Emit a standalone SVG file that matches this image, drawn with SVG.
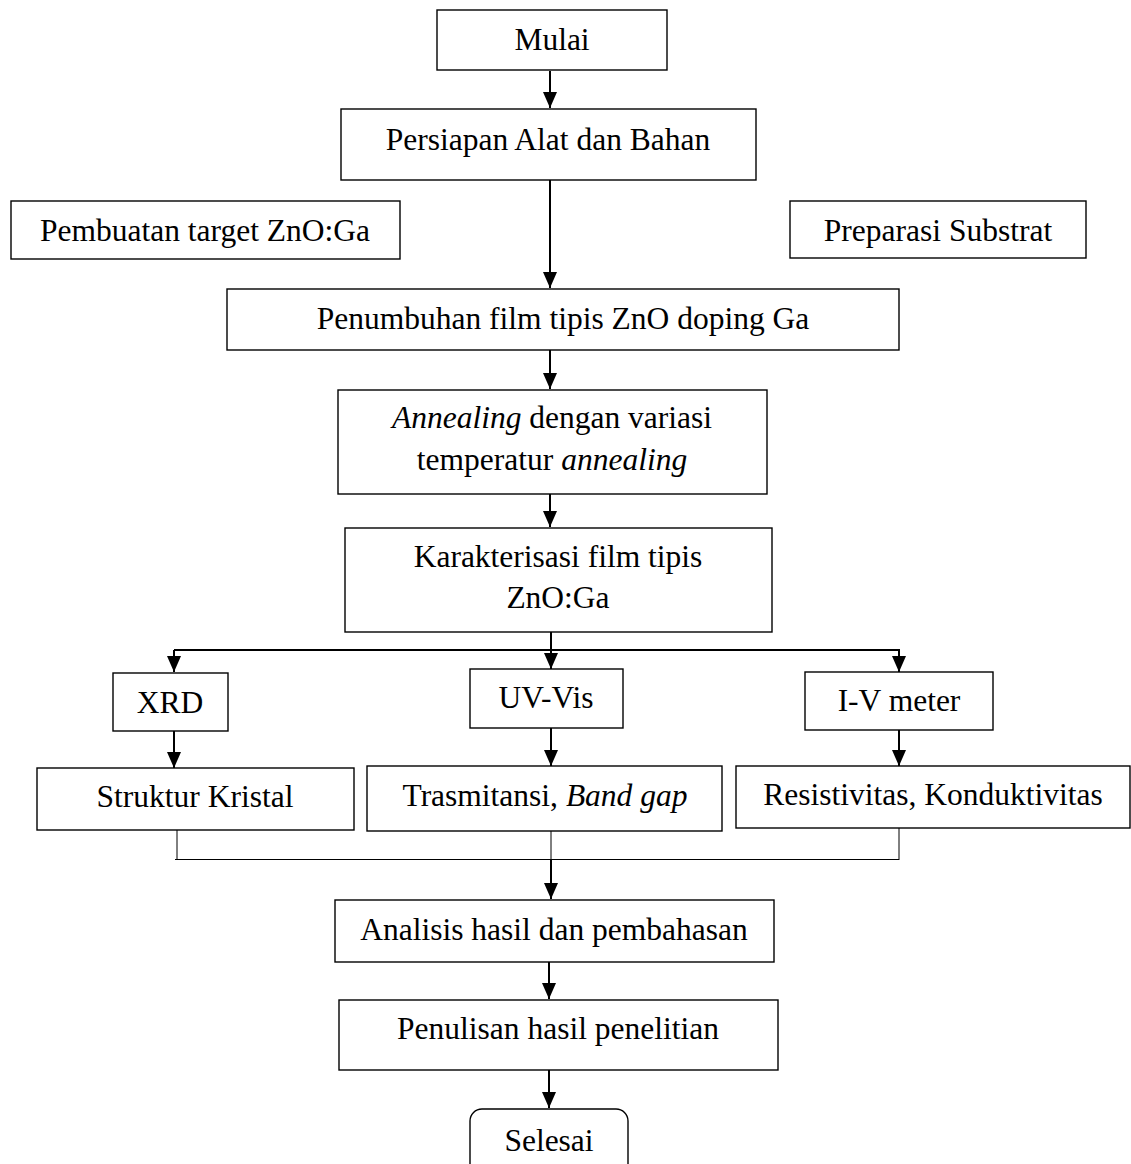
<svg xmlns="http://www.w3.org/2000/svg" width="1131" height="1164" viewBox="0 0 1131 1164">
<style>
.box{fill:#fff;stroke:#000;stroke-width:1.4}
.t{font-family:"Liberation Serif","Times New Roman",serif;font-size:31.5px;fill:#000;text-anchor:middle}
.i{font-style:italic}
.c{fill:none;stroke:#000;stroke-width:2}
.thin{fill:none;stroke:#000;stroke-width:1}
</style>
<defs>
<marker id="ah" markerUnits="userSpaceOnUse" markerWidth="14" markerHeight="16" refX="7" refY="15" orient="auto-start-reverse" viewBox="0 0 14 16">
<path d="M0,0 L14,0 L7,16 Z" fill="#000" transform="rotate(-90 7 8) translate(0 0)"/>
</marker>
<marker id="a" markerUnits="userSpaceOnUse" markerWidth="16" markerHeight="14" refX="16" refY="7" orient="auto" viewBox="0 0 16 14">
<path d="M0,0 L16,7 L0,14 Z" fill="#000"/>
</marker>
</defs>
<rect width="1131" height="1164" fill="#fff"/>
<g id="connectors">
<line class="c" x1="550" y1="71" x2="550" y2="108" marker-end="url(#a)"/>
<line class="c" x1="550" y1="180" x2="550" y2="288" marker-end="url(#a)"/>
<line class="c" x1="550" y1="350" x2="550" y2="389" marker-end="url(#a)"/>
<line class="c" x1="550" y1="494" x2="550" y2="527" marker-end="url(#a)"/>
<line class="c" x1="551" y1="632" x2="551" y2="650"/>
<line class="c" x1="174" y1="650" x2="900" y2="650"/>
<line class="c" x1="174" y1="650" x2="174" y2="672" marker-end="url(#a)"/>
<line class="c" x1="551" y1="650" x2="551" y2="669" marker-end="url(#a)"/>
<line class="c" x1="899" y1="650" x2="899" y2="672" marker-end="url(#a)"/>
<line class="c" x1="174" y1="731" x2="174" y2="768" marker-end="url(#a)"/>
<line class="c" x1="551" y1="728" x2="551" y2="766" marker-end="url(#a)"/>
<line class="c" x1="899" y1="730" x2="899" y2="766" marker-end="url(#a)"/>
<line class="thin" x1="177" y1="830" x2="177" y2="860"/>
<line class="thin" x1="551" y1="831" x2="551" y2="860"/>
<line class="thin" x1="899" y1="828" x2="899" y2="860"/>
<line class="thin" x1="175" y1="859.5" x2="899" y2="859.5" stroke-width="1.5"/>
<line class="c" x1="551" y1="860" x2="551" y2="899" marker-end="url(#a)"/>
<line class="c" x1="549" y1="962" x2="549" y2="999" marker-end="url(#a)"/>
<line class="c" x1="549" y1="1070" x2="549" y2="1108" marker-end="url(#a)"/>
</g>
<g id="mulai"><rect class="box" x="437" y="10" width="230" height="60"/><text class="t" x="552" y="50">Mulai</text></g>
<g id="persiapan"><rect class="box" x="341" y="109" width="415" height="71"/><text class="t" x="548" y="150">Persiapan Alat dan Bahan</text></g>
<g id="pembuatan"><rect class="box" x="11" y="201" width="389" height="58"/><text class="t" x="205" y="241">Pembuatan target ZnO:Ga</text></g>
<g id="preparasi"><rect class="box" x="790" y="201" width="296" height="57"/><text class="t" x="938" y="241">Preparasi Substrat</text></g>
<g id="penumbuhan"><rect class="box" x="227" y="289" width="672" height="61"/><text class="t" x="563" y="329">Penumbuhan film tipis ZnO doping Ga</text></g>
<g id="annealing"><rect class="box" x="338" y="390" width="429" height="104"/><text class="t" x="552" y="428"><tspan class="i">Annealing</tspan> dengan variasi</text><text class="t" x="552" y="470">temperatur <tspan class="i">annealing</tspan></text></g>
<g id="karakterisasi"><rect class="box" x="345" y="528" width="427" height="104"/><text class="t" x="558" y="567">Karakterisasi film tipis</text><text class="t" x="558" y="608">ZnO:Ga</text></g>
<g id="xrd"><rect class="box" x="113" y="673" width="115" height="58"/><text class="t" x="170" y="713">XRD</text></g>
<g id="uvvis"><rect class="box" x="470" y="669" width="153" height="59"/><text class="t" x="546" y="708">UV-Vis</text></g>
<g id="ivmeter"><rect class="box" x="805" y="672" width="188" height="58"/><text class="t" x="899" y="711">I-V meter</text></g>
<g id="struktur"><rect class="box" x="37" y="768" width="317" height="62"/><text class="t" x="195" y="807">Struktur Kristal</text></g>
<g id="trasmitansi"><rect class="box" x="367" y="766" width="355" height="65"/><text class="t" x="545" y="806">Trasmitansi, <tspan class="i">Band gap</tspan></text></g>
<g id="resistivitas"><rect class="box" x="736" y="766" width="394" height="62"/><text class="t" x="933" y="805">Resistivitas, Konduktivitas</text></g>
<g id="analisis"><rect class="box" x="335" y="900" width="439" height="62"/><text class="t" x="554" y="940">Analisis hasil dan pembahasan</text></g>
<g id="penulisan"><rect class="box" x="339" y="1000" width="439" height="70"/><text class="t" x="558" y="1039">Penulisan hasil penelitian</text></g>
<g id="selesai"><rect class="box" x="470" y="1109" width="158" height="80" rx="12"/><text class="t" x="549" y="1151">Selesai</text></g>
</svg>
